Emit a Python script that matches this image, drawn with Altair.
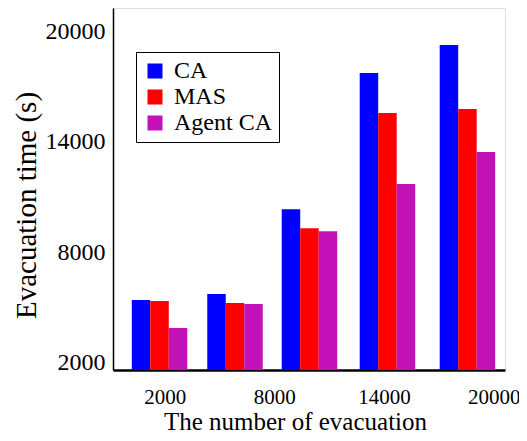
import altair as alt
import pandas as pd

# Data
series = ["CA", "MAS", "Agent CA"]
colors = ["#0000FF", "#FF0000", "#C211B6"]
group_pos = [1716, 5846, 9921, 14188, 18565]   # x positions of the 5 groups
ca_vals = [5390, 5720, 10330, 17750, 19270]
mas_vals = [5340, 5230, 9300, 15570, 15790]
agent_vals = [3870, 5170, 9130, 11710, 13450]
x_ticks = [2000, 8000, 14000, 20000]
y_ticks = [2000, 8000, 14000, 20000]

bar_w = 1012  # width of one bar in x-units
y_min = 1580

rows = []
for vals_idx, vals in enumerate([ca_vals, mas_vals, agent_vals]):
    for g, v in zip(group_pos, vals):
        rows.append({"pos": g, "series": series[vals_idx], "k": vals_idx, "value": v})
df = pd.DataFrame(rows)

FONT = "Liberation Serif"

chart = (
    alt.Chart(df)
    .transform_calculate(
        x0=f"datum.pos + (datum.k - 1.5) * {bar_w}",
        x1=f"datum.pos + (datum.k - 0.5) * {bar_w}",
    )
    .mark_bar(clip=True)
    .encode(
        x=alt.X(
            "x0:Q",
            scale=alt.Scale(domain=[-830, 20620], nice=False, zero=False),
            axis=alt.Axis(
                values=x_ticks,
                title="The number of evacuation",
                ticks=False,
                grid=False,
                labelFont=FONT,
                labelFontSize=21,
                labelColor="black",
                labelPadding=16,
                labelFlush=False,
                titleFont=FONT,
                titleFontSize=25,
                titleFontWeight="normal",
                titleColor="black",
                titleX=182,
                titleY=59,
                titleBaseline="alphabetic",
                titleAnchor="middle",
                domainColor="black",
                domainWidth=2.5,
                format="d",
            ),
        ),
        x2="x1:Q",
        y=alt.Y(
            "value:Q",
            scale=alt.Scale(domain=[y_min, 21290], nice=False, zero=False),
            axis=alt.Axis(
                values=y_ticks,
                title="Evacuation time (s)",
                ticks=False,
                grid=False,
                labelFont=FONT,
                labelFontSize=24,
                labelColor="black",
                labelPadding=8,
                labelFlush=False,
                titleFont=FONT,
                titleFontSize=29,
                titleFontWeight="normal",
                titleColor="black",
                titleAngle=-90,
                titleX=-87,
                titleY=197,
                titleBaseline="middle",
                titleAlign="center",
                domainColor="black",
                domainWidth=1.5,
                format="d",
            ),
        ),
        y2=alt.datum(y_min),
        color=alt.Color(
            "series:N",
            scale=alt.Scale(domain=series, range=colors),
            legend=alt.Legend(
                title=None,
                orient="none",
                legendX=23,
                legendY=44,
                strokeColor="black",
                padding=7,
                symbolType="square",
                symbolSize=225,
                symbolStrokeWidth=0,
                symbolOpacity=1,
                labelFont=FONT,
                labelFontSize=24,
                labelColor="black",
                labelOffset=7,
                fillColor="white",
            ),
        ),
    )
    .properties(
        width=392,
        height=362,
        autosize=alt.AutoSizeParams(type="none"),
        padding={"left": 105, "top": 0, "right": 14, "bottom": 63},
    )
    .configure_view(stroke="black", strokeWidth=1.5)
    .configure_legend(rowPadding=1, strokeWidth=1.5)
    .configure(background="white")
)

chart.save("out.html", embed_options={"renderer": "svg", "actions": False})
